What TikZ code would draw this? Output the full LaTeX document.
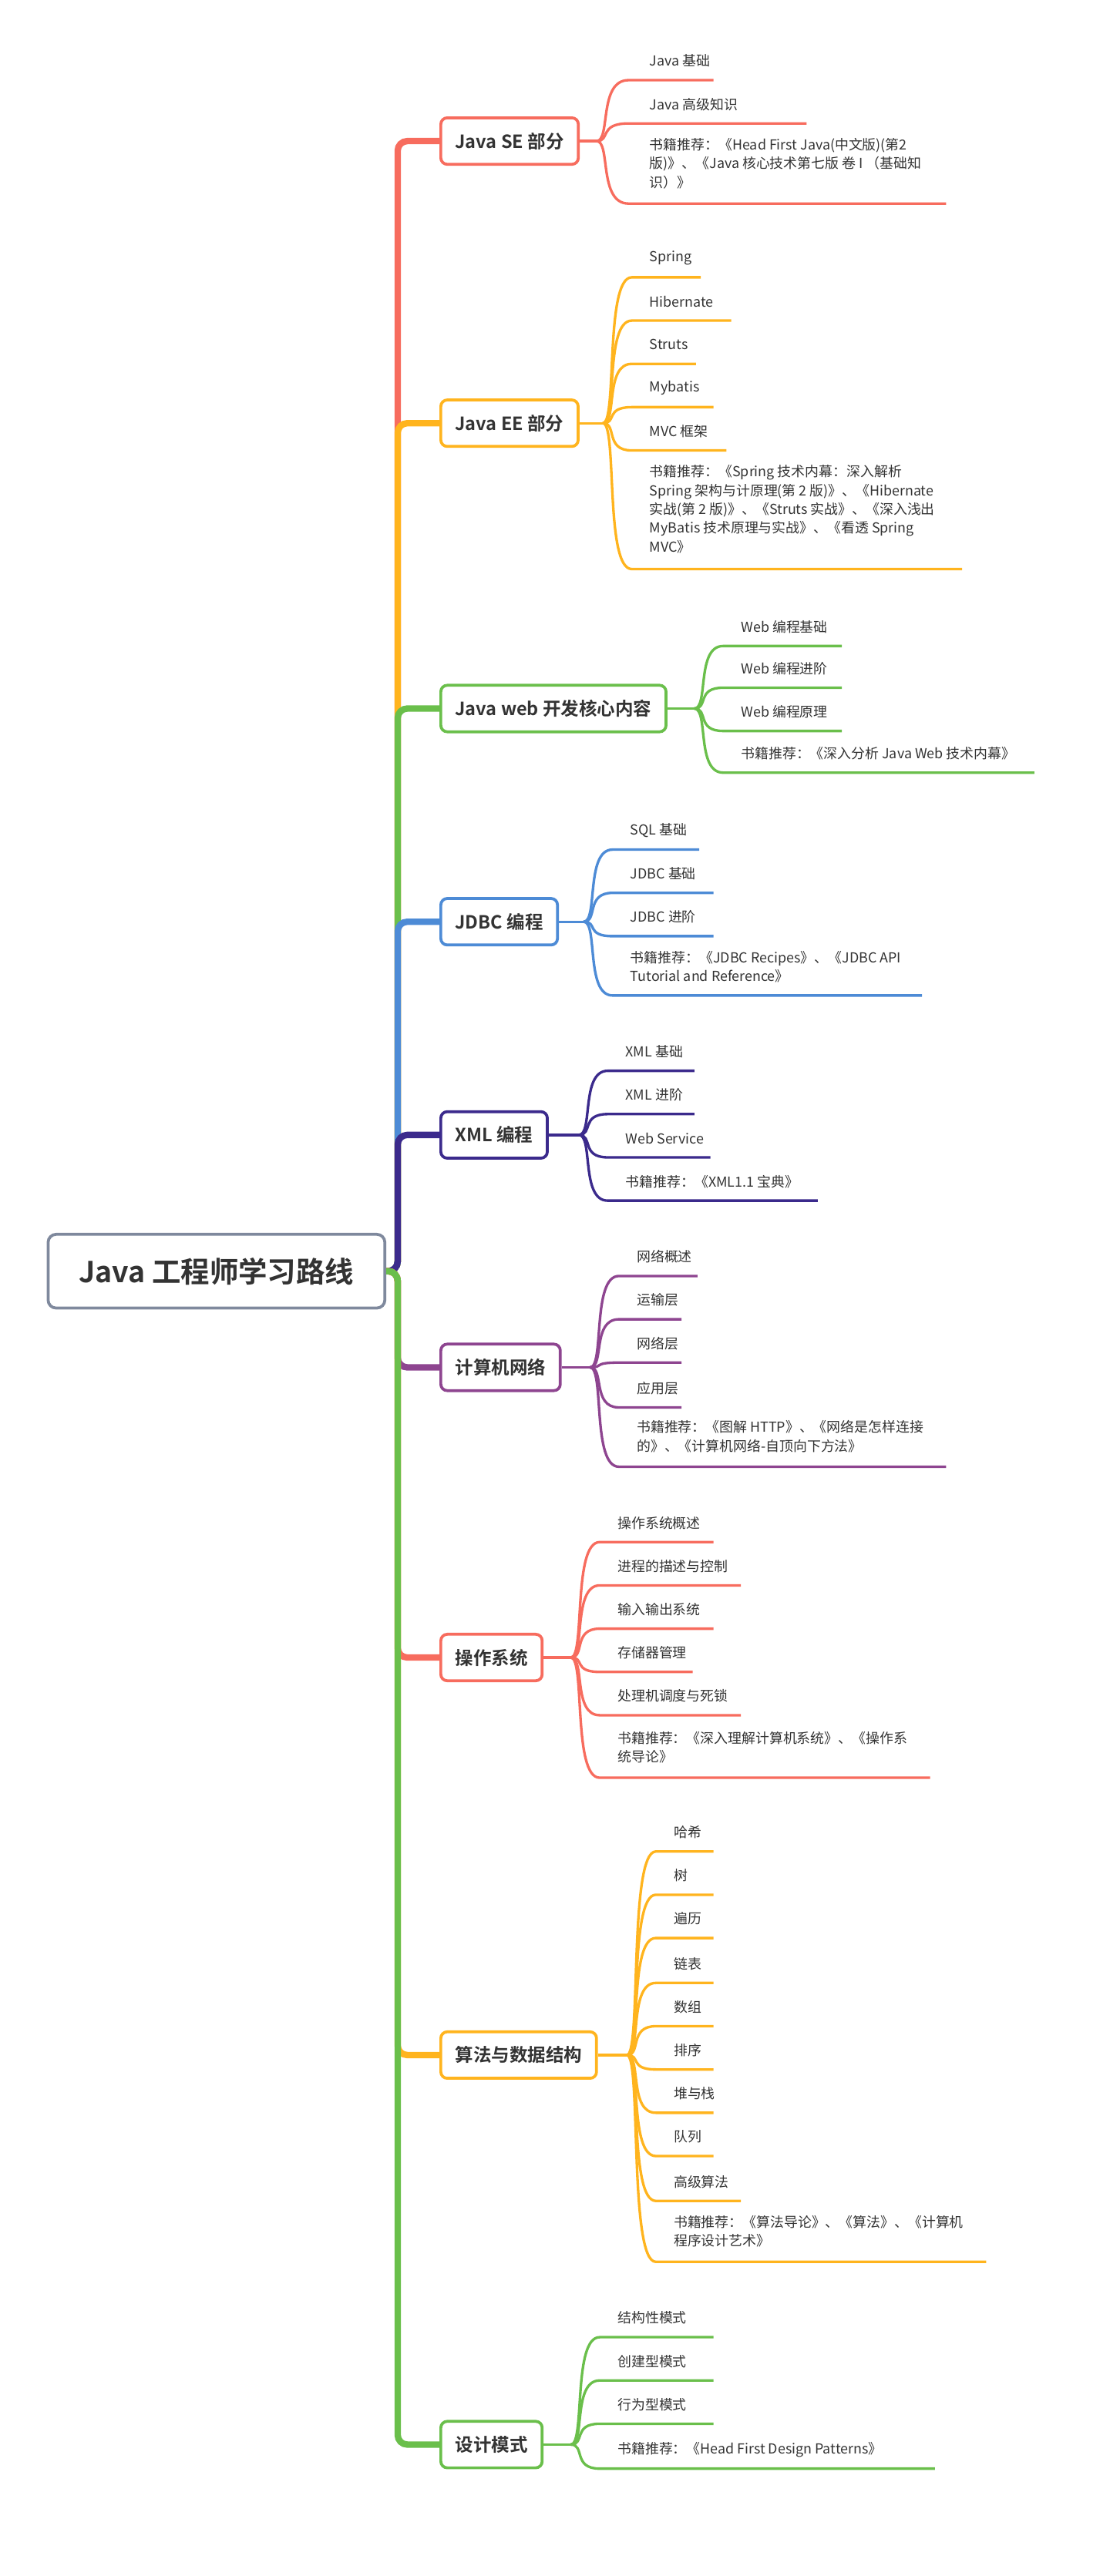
\documentclass[tikz,border=0pt]{standalone}
\usepackage{fontspec}
\setmainfont{Noto Sans CJK SC}[BoldFont={Noto Sans CJK SC Bold}]
\definecolor{cred}{HTML}{F76C5E}
\definecolor{corg}{HTML}{FFB41E}
\definecolor{cgrn}{HTML}{6ABF4B}
\definecolor{cblu}{HTML}{4D8BD6}
\definecolor{cnav}{HTML}{3B2A8C}
\definecolor{cpur}{HTML}{8E4590}
\definecolor{cgry}{HTML}{7F899D}
\definecolor{ctxt}{HTML}{333333}
\newcommand\leafln[6]{% color, hubx, cy, startx, ly, endx
 \draw[#1,line width=1.6pt] (#2,#3) .. controls (#2+9,#3) and (#2+1,#5) .. (#4,#5) -- (#6,#5);}
\newcommand\trunk[2]{% color, cy
 \draw[#1,line width=4pt,rounded corners=6pt] (root.east) -- (248,793) -- (248,#2) -- (274,#2);}
\begin{document}
\begin{tikzpicture}[x=1pt,y=-1pt,
  leaf/.style={text=ctxt,font=\fontsize{8.6}{11.7}\selectfont,inner sep=0pt},
  hdr/.style={draw=#1,line width=1.8pt,rounded corners=4pt,fill=white,text=ctxt,
     font=\bfseries\fontsize{11.3}{13}\selectfont,minimum height=29pt,inner xsep=9pt,anchor=west}]
\useasboundingbox (0,0) rectangle (692,1607);
\node[draw=cgry,line width=1.8pt,rounded corners=5pt,fill=white,text=ctxt,minimum width=210pt,minimum height=46pt,
  font=\bfseries\fontsize{18}{20}\selectfont] (root) at (135,793) {Java 工程师学习路线};
% trunks
\trunk{cred}{88}\trunk{corg}{264}\trunk{cgrn}{442}\trunk{cblu}{575}\trunk{cnav}{708}
\trunk{cpur}{853}\trunk{cred}{1034}\trunk{corg}{1282}\trunk{cgrn}{1525}
\draw[cgrn,line width=4pt] (248,797) -- (248,1515);
% headers
\node[hdr=cred] (se) at (274,88) {Java SE 部分};
\node[hdr=corg] (ee) at (274,264) {Java EE 部分};
\node[hdr=cgrn] (web) at (274,442) {Java web 开发核心内容};
\node[hdr=cblu] (jdbc) at (274,575) {JDBC 编程};
\node[hdr=cnav] (xml) at (274,708) {XML 编程};
\node[hdr=cpur] (net) at (274,853) {计算机网络};
\node[hdr=cred] (os) at (274,1034) {操作系统};
\node[hdr=corg] (alg) at (274,1282) {算法与数据结构};
\node[hdr=cgrn] (dp) at (274,1525) {设计模式};
% SE
\draw[cred,line width=1.6pt] (se.east) -- (372,88);
\leafln{cred}{372}{88}{392}{50}{445}\leafln{cred}{372}{88}{392}{77}{503}\leafln{cred}{372}{88}{392}{127}{590}
\node[leaf,anchor=west] at (405,38) {Java 基础};
\node[leaf,anchor=west] at (405,65) {Java 高级知识};
\node[leaf,anchor=north west,align=left] at (405,86) {书籍推荐：《Head First Java(中文版)(第2\\版)》、《Java 核心技术第七版 卷 I （基础知\\识）》};
% EE
\draw[corg,line width=1.6pt] (ee.east) -- (376,264);
\foreach \y/\e in {173/437,200/456,227/434,254/445,281/453,355/600}{\leafln{corg}{376}{264}{394}{\y}{\e}}
\node[leaf,anchor=west] at (405,161) {Spring};
\node[leaf,anchor=west] at (405,188) {Hibernate};
\node[leaf,anchor=west] at (405,215) {Struts};
\node[leaf,anchor=west] at (405,242) {Mybatis};
\node[leaf,anchor=west] at (405,269) {MVC 框架};
\node[leaf,anchor=north west,align=left] at (405,290) {书籍推荐：《Spring 技术内幕：深入解析\\Spring 架构与计原理(第 2 版)》、《Hibernate\\实战(第 2 版)》、《Struts 实战》、《深入浅出\\MyBatis 技术原理与实战》、《看透 Spring\\MVC》};
% web
\draw[cgrn,line width=1.6pt] (web.east) -- (433,442);
\foreach \y/\e in {403/525,429/525,456/525,482/645}{\leafln{cgrn}{433}{442}{451}{\y}{\e}}
\node[leaf,anchor=west] at (462,391) {Web 编程基础};
\node[leaf,anchor=west] at (462,417) {Web 编程进阶};
\node[leaf,anchor=west] at (462,444) {Web 编程原理};
\node[leaf,anchor=west] at (462,470) {书籍推荐：《深入分析 Java Web 技术内幕》};
% JDBC
\draw[cblu,line width=1.6pt] (jdbc.east) -- (364,575);
\foreach \y/\e in {530/436,557/445,584/445,621/575}{\leafln{cblu}{364}{575}{382}{\y}{\e}}
\node[leaf,anchor=west] at (393,518) {SQL 基础};
\node[leaf,anchor=west] at (393,545) {JDBC 基础};
\node[leaf,anchor=west] at (393,572) {JDBC 进阶};
\node[leaf,anchor=north west,align=left] at (393,593) {书籍推荐：《JDBC Recipes》、《JDBC API\\Tutorial and Reference》};
% XML
\draw[cnav,line width=1.6pt] (xml.east) -- (361,708);
\foreach \y/\e in {668/433,695/433,722/443,749/510}{\leafln{cnav}{361}{708}{379}{\y}{\e}}
\node[leaf,anchor=west] at (390,656) {XML 基础};
\node[leaf,anchor=west] at (390,683) {XML 进阶};
\node[leaf,anchor=west] at (390,710) {Web Service};
\node[leaf,anchor=west] at (390,737) {书籍推荐：《XML1.1 宝典》};
% net
\draw[cpur,line width=1.6pt] (net.east) -- (368,853);
\foreach \y/\e in {796/435,823/425,850/425,878/425,915/590}{\leafln{cpur}{368}{853}{386}{\y}{\e}}
\node[leaf,anchor=west] at (397,784) {网络概述};
\node[leaf,anchor=west] at (397,811) {运输层};
\node[leaf,anchor=west] at (397,838) {网络层};
\node[leaf,anchor=west] at (397,866) {应用层};
\node[leaf,anchor=north west,align=left] at (397,886) {书籍推荐：《图解 HTTP》、《网络是怎样连接\\的》、《计算机网络-自顶向下方法》};
% OS
\draw[cred,line width=1.6pt] (os.east) -- (356,1034);
\foreach \y/\e in {962/445,989/462,1016/445,1043/432,1070/462,1109/580}{\leafln{cred}{356}{1034}{374}{\y}{\e}}
\node[leaf,anchor=west] at (385,950) {操作系统概述};
\node[leaf,anchor=west] at (385,977) {进程的描述与控制};
\node[leaf,anchor=west] at (385,1004) {输入输出系统};
\node[leaf,anchor=west] at (385,1031) {存储器管理};
\node[leaf,anchor=west] at (385,1058) {处理机调度与死锁};
\node[leaf,anchor=north west,align=left] at (385,1080) {书籍推荐：《深入理解计算机系统》、《操作系\\统导论》};
% ALG
\draw[corg,line width=1.6pt] (alg.east) -- (391,1282);
\foreach \y/\e in {1155/445,1182/445,1209/445,1237/445,1264/445,1291/445,1318/445,1345/445,1373/462,1411/615}{\leafln{corg}{391}{1282}{409}{\y}{\e}}
\node[leaf,anchor=west] at (420,1143) {哈希};
\node[leaf,anchor=west] at (420,1170) {树};
\node[leaf,anchor=west] at (420,1197) {遍历};
\node[leaf,anchor=west] at (420,1225) {链表};
\node[leaf,anchor=west] at (420,1252) {数组};
\node[leaf,anchor=west] at (420,1279) {排序};
\node[leaf,anchor=west] at (420,1306) {堆与栈};
\node[leaf,anchor=west] at (420,1333) {队列};
\node[leaf,anchor=west] at (420,1361) {高级算法};
\node[leaf,anchor=north west,align=left] at (420,1382) {书籍推荐：《算法导论》、《算法》、《计算机\\程序设计艺术》};
% DP
\draw[cgrn,line width=1.6pt] (dp.east) -- (356,1525);
\foreach \y/\e in {1458/445,1485/445,1512/445,1540/583}{\leafln{cgrn}{356}{1525}{374}{\y}{\e}}
\node[leaf,anchor=west] at (385,1446) {结构性模式};
\node[leaf,anchor=west] at (385,1473) {创建型模式};
\node[leaf,anchor=west] at (385,1500) {行为型模式};
\node[leaf,anchor=west] at (385,1528) {书籍推荐：《Head First Design Patterns》};
\end{tikzpicture}
\end{document}
